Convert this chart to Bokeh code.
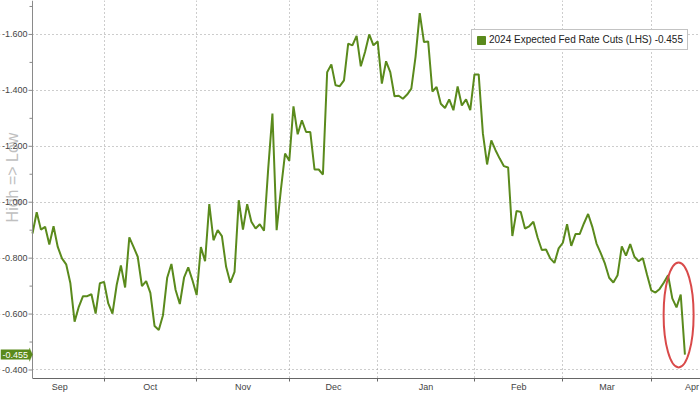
import numpy as np
import pandas as pd
from bokeh.plotting import figure
from bokeh.models import (Range1d, FixedTicker, Label, Legend, LegendItem,
                          PolyAnnotation, Span, BoxAnnotation, ColumnDataSource)
from bokeh.embed import file_html
from bokeh.resources import INLINE

# ---------------- data ----------------
series_name = "2024 Expected Fed Rate Cuts (LHS)"
start_date = "2023-09-07"          # first business day shown
values = [
    -0.888, -0.964, -0.902, -0.912, -0.849, -0.914, -0.840, -0.799, -0.778, -0.710,
    -0.573, -0.626, -0.664, -0.664, -0.671, -0.602, -0.710, -0.715, -0.638, -0.602,
    -0.704, -0.774, -0.695, -0.874, -0.840, -0.805, -0.700, -0.718, -0.676, -0.557,
    -0.543, -0.596, -0.730, -0.779, -0.686, -0.636, -0.730, -0.767, -0.721, -0.668,
    -0.840, -0.789, -0.993, -0.864, -0.900, -0.879, -0.769, -0.712, -0.751, -1.007,
    -0.902, -0.993, -0.930, -0.906, -0.921, -0.898, -1.120, -1.317, -0.900, -1.043,
    -1.174, -1.148, -1.343, -1.243, -1.293, -1.251, -1.251, -1.117, -1.117, -1.099,
    -1.465, -1.493, -1.418, -1.415, -1.436, -1.567, -1.561, -1.595, -1.486, -1.537,
    -1.600, -1.561, -1.575, -1.424, -1.504, -1.465, -1.379, -1.381, -1.370, -1.385,
    -1.406, -1.520, -1.676, -1.573, -1.575, -1.396, -1.412, -1.352, -1.337, -1.368,
    -1.329, -1.414, -1.346, -1.368, -1.329, -1.457, -1.457, -1.246, -1.135, -1.221,
    -1.186, -1.156, -1.129, -1.124, -0.879, -0.969, -0.965, -0.906, -0.914, -0.930,
    -0.874, -0.829, -0.831, -0.799, -0.783, -0.835, -0.855, -0.921, -0.844, -0.886,
    -0.886, -0.924, -0.958, -0.912, -0.852, -0.818, -0.780, -0.730, -0.713, -0.739,
    -0.842, -0.809, -0.850, -0.805, -0.789, -0.800, -0.741, -0.685, -0.677, -0.690,
    -0.713, -0.739, -0.656, -0.624, -0.670, -0.455,
]
y_ticks = [-1.6, -1.4, -1.2, -1.0, -0.8, -0.6, -0.4]
y_minor_ticks = [-1.7, -1.5, -1.3, -1.1, -0.9, -0.7, -0.5]
month_labels = ["Sep", "Oct", "Nov", "Dec", "Jan", "Feb", "Mar", "Apr"]
y_axis_title = "High => Low"
last_label = "-0.455"

# ---------------- business-day axis ----------------
dates = pd.bdate_range(start_date, periods=len(values))
x = np.arange(len(values))
cal = pd.bdate_range("2023-09-01", "2024-05-31")
offset = cal.get_loc(dates[0])
month_starts = []
for m in pd.period_range("2023-09", "2024-05", freq="M"):
    sel = cal[(cal.year == m.year) & (cal.month == m.month)]
    month_starts.append(cal.get_loc(sel[0]) - offset)
grid_x = month_starts[1:-1]
label_x = [(a + b) / 2 for a, b in zip(month_starts[:-1], month_starts[1:])]

PX = 4.209                 # pixels per business day
LEFT = 32                  # pixels reserved left of the value axis
X_END = 158.7
label_x[-1] = min(label_x[-1], X_END - 2.0)

GREEN = "#5a8a1c"
FONT = "Liberation Sans"
AXIS_GREY = "#8a8a8a"

p = figure(width=700, height=394, output_backend="svg", toolbar_location=None,
           x_range=Range1d(-LEFT / PX, X_END), y_range=Range1d(-0.3696, -1.7214),
           y_axis_location=None,
           min_border_left=0, min_border_right=0, min_border_top=0,
           min_border_bottom=0, background_fill_color="white",
           border_fill_color="white")
p.outline_line_color = None

# x axis: month names centred in each month, small ticks at month starts
p.xaxis.ticker = FixedTicker(ticks=label_x, minor_ticks=grid_x)
p.xaxis.major_label_overrides = {float(v): t for v, t in zip(label_x, month_labels)}
p.xaxis.bounds = (0, X_END)
p.xaxis.major_tick_line_color = None
p.xaxis.major_tick_out = 0
p.xaxis.major_tick_in = 0
p.xaxis.minor_tick_out = 3
p.xaxis.minor_tick_in = 0
p.xaxis.minor_tick_line_color = "#666666"
p.xaxis.axis_line_color = "#666666"
p.xaxis.major_label_standoff = 0
p.xaxis.major_label_text_font = FONT
p.xaxis.major_label_text_font_size = "9px"
p.xaxis.major_label_text_color = "#444444"
p.xgrid.ticker = FixedTicker(ticks=grid_x)
p.xgrid.grid_line_color = "#9a9a9a"
p.xgrid.grid_line_dash = "1 3"

for g in p.ygrid:
    g.ticker = FixedTicker(ticks=y_ticks)
    g.grid_line_color = "#9a9a9a"
    g.grid_line_dash = "1 3"

# blank the strip left of the value axis (tick-label area)
p.add_layout(BoxAnnotation(right=0, fill_color="white", fill_alpha=1,
                           line_color=None, level="underlay"))

# value axis line and ticks
p.add_layout(Span(location=0, dimension="height", line_color=AXIS_GREY, line_width=1))
p.segment(x0=[-4 / PX] * len(y_ticks), x1=[0] * len(y_ticks), y0=y_ticks, y1=y_ticks,
          line_color=AXIS_GREY, line_width=1)
p.segment(x0=[-3 / PX] * len(y_minor_ticks), x1=[0] * len(y_minor_ticks),
          y0=y_minor_ticks, y1=y_minor_ticks, line_color=AXIS_GREY, line_width=1)

# y-axis title (large, light grey, behind the tick labels)
p.add_layout(Label(x=12, y=201, x_units="screen", y_units="screen", text=y_axis_title,
                   angle=np.pi / 2, text_align="center", text_baseline="middle",
                   text_font=FONT, text_font_size="16px", text_color="#c0c0c0"))

# tick labels
for t in y_ticks:
    p.add_layout(Label(x=27, y=t, x_units="screen", y_units="data", text=f"{t:.3f}",
                       text_align="right", text_baseline="middle", text_font=FONT,
                       text_font_size="9px", text_color="#444444"))

# series
p.line(x, values, line_color=GREEN, line_width=2)

# legend (square swatch)
swatch_src = ColumnDataSource(dict(l=[np.nan], r=[np.nan], t=[np.nan], b=[np.nan]))
swatch = p.quad(left="l", right="r", top="t", bottom="b", source=swatch_src,
                fill_color=GREEN, line_color=GREEN)
legend = Legend(items=[LegendItem(label=f"{series_name} {last_label}", renderers=[swatch])],
                location=(471, 328), orientation="vertical")
legend.label_text_font = FONT
legend.label_text_font_size = "10px"
legend.label_text_color = "#222222"
legend.glyph_width = 10
legend.glyph_height = 10
legend.label_height = 10
legend.label_standoff = 3
legend.padding = 4
legend.margin = 0
legend.spacing = 0
legend.border_line_color = "#888888"
legend.border_line_width = 1
legend.background_fill_color = "white"
legend.background_fill_alpha = 1
p.add_layout(legend, "center")

# highlight ellipse around the last few observations
hx = float(np.mean(x[-4:]))
hy = float((min(values[-5:]) + max(values[-5:])) / 2)
p.ellipse(x=[hx], y=[hy], width=30, height=105, width_units="screen",
          height_units="screen", fill_color=None, line_color="#d94a4a", line_width=2)

# last value tag on the axis
last = values[-1]
p.add_layout(PolyAnnotation(xs=[-3 / PX, 0, -3 / PX], ys=[last - 0.024, last, last + 0.024],
                            fill_color=GREEN, fill_alpha=1, line_color=GREEN))
p.add_layout(Label(x=0, y=last, x_units="screen", y_units="data", text=last_label,
                   text_align="left", text_baseline="middle", text_font=FONT,
                   text_font_size="9px", text_color="white",
                   background_fill_color=GREEN, background_fill_alpha=1, padding=2))

open("out.html", "w").write(file_html(p, INLINE))
